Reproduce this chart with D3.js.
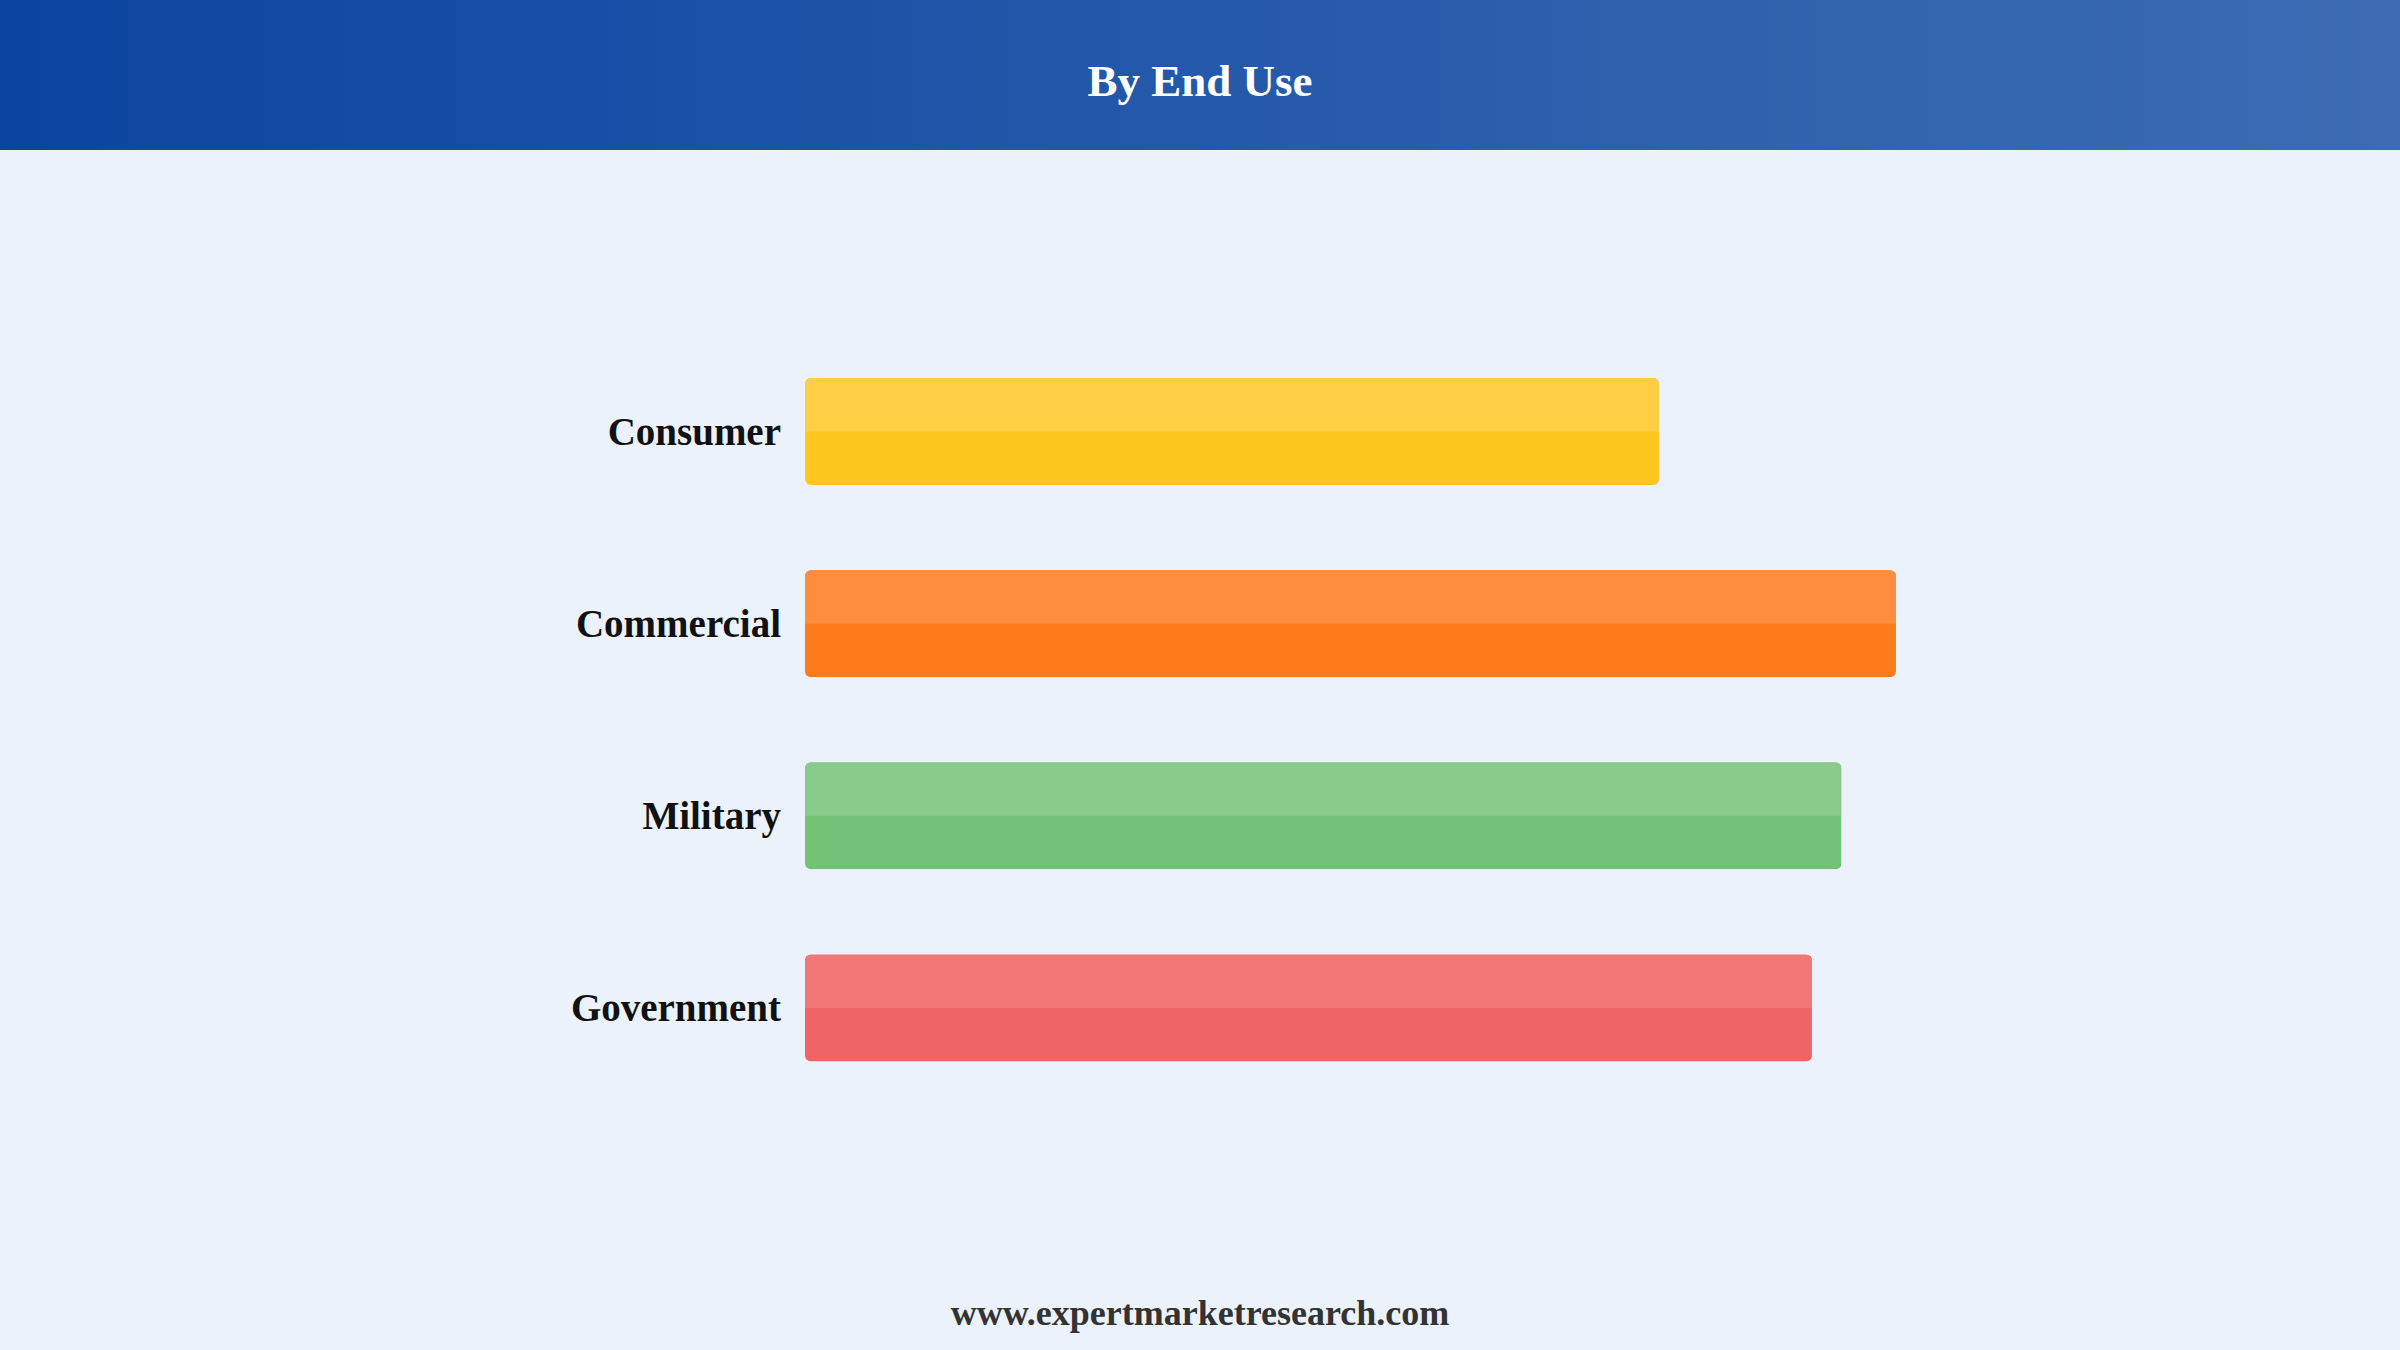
<!DOCTYPE html>
<html>
<head>
<meta charset="utf-8">
<script src="https://cdn.jsdelivr.net/npm/d3@7"></script>
<style>
  html, body { margin: 0; padding: 0; background: #ebf2fb; }
  svg { display: block; }
</style>
</head>
<body>
<svg id="chart" width="2400" height="1350"></svg>
<script>
// data
var categories = ["Consumer", "Commercial", "Military", "Government"];
var values = [78.3, 100, 95, 92.3];
var topColors = ["#fecf45", "#fe8d3e", "#89cb8c", "#f07878"];
var bottomColors = ["#fec720", "#fe7c1c", "#73c278", "#ef6464"];

var width = 2400,
    height = 1350;

var svg = d3.select("#chart");

var defs = svg.append("defs");
var grad = defs.append("linearGradient")
    .attr("id", "head")
    .attr("x1", "0%").attr("x2", "100%")
    .attr("y1", "0%").attr("y2", "0%");
grad.append("stop").attr("offset", "0%").attr("stop-color", "#0c45a0");
grad.append("stop").attr("offset", "100%").attr("stop-color", "#3d6cb4");

svg.append("rect")
    .attr("width", width)
    .attr("height", height)
    .attr("fill", "#ebf2fb");

svg.append("rect")
    .attr("width", width)
    .attr("height", 150)
    .attr("fill", "url(#head)");

svg.append("text")
    .attr("x", width / 2)
    .attr("y", 96)
    .attr("text-anchor", "middle")
    .attr("font-family", "'Liberation Serif', 'Times New Roman', serif")
    .attr("font-weight", "bold")
    .attr("font-size", 45)
    .attr("fill", "#ffffff")
    .text("By End Use");

var x = d3.scaleLinear()
    .domain([0, 100])
    .range([805, 1896]);

var y = d3.scaleBand()
    .domain(categories)
    .range([349.2, 1090.3])
    .paddingInner(0.443)
    .paddingOuter(0.15);

var bar = svg.selectAll("g.bar")
    .data(categories)
  .enter().append("g")
    .attr("class", "bar")
    .attr("transform", function(d) { return "translate(0," + y(d) + ")"; });

var bh = y.bandwidth();

bar.append("clipPath")
    .attr("id", function(d, i) { return "clip" + i; })
  .append("rect")
    .attr("x", x(0))
    .attr("width", function(d, i) { return x(values[i]) - x(0); })
    .attr("height", bh)
    .attr("rx", 6);

bar.append("rect")
    .attr("x", x(0))
    .attr("width", function(d, i) { return x(values[i]) - x(0); })
    .attr("height", bh)
    .attr("clip-path", function(d, i) { return "url(#clip" + i + ")"; })
    .attr("fill", function(d, i) { return bottomColors[i]; });

bar.append("rect")
    .attr("x", x(0))
    .attr("width", function(d, i) { return x(values[i]) - x(0); })
    .attr("height", bh / 2)
    .attr("clip-path", function(d, i) { return "url(#clip" + i + ")"; })
    .attr("fill", function(d, i) { return topColors[i]; });

bar.append("text")
    .attr("x", x(0) - 24)
    .attr("y", bh / 2 + 13)
    .attr("text-anchor", "end")
    .attr("font-family", "'Liberation Serif', 'Times New Roman', serif")
    .attr("font-weight", "bold")
    .attr("font-size", 39)
    .attr("fill", "#111111")
    .text(function(d) { return d; });

svg.append("text")
    .attr("x", width / 2)
    .attr("y", 1325)
    .attr("text-anchor", "middle")
    .attr("font-family", "'Liberation Serif', 'Times New Roman', serif")
    .attr("font-weight", "bold")
    .attr("font-size", 36)
    .attr("fill", "#333333")
    .text("www.expertmarketresearch.com");
</script>
</body>
</html>
